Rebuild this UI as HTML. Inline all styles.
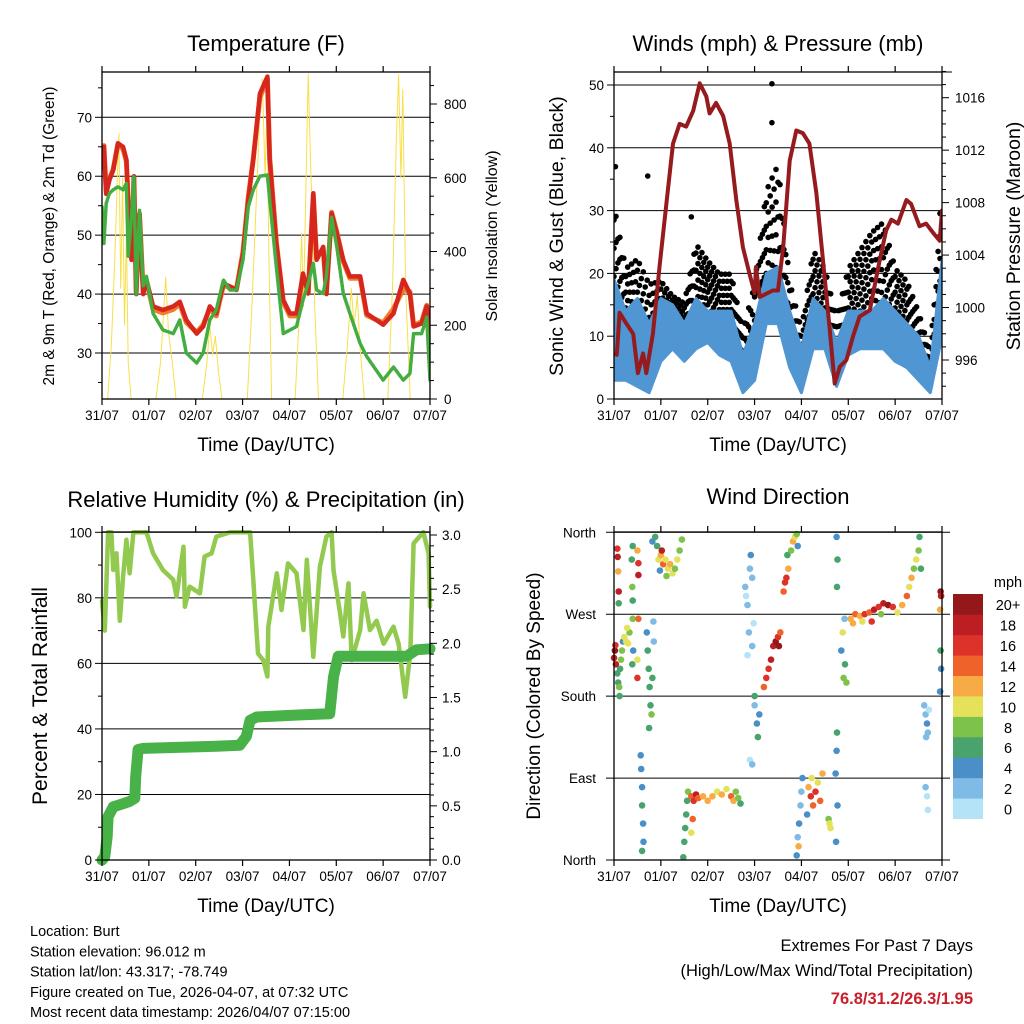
<!DOCTYPE html>
<html><head><meta charset="utf-8"><style>
body{margin:0;background:#fff;}
svg{display:block;font-family:"Liberation Sans",sans-serif;}
</style></head><body>
<svg id="s" width="1024" height="1024" viewBox="0 0 1024 1024" xmlns="http://www.w3.org/2000/svg">
<rect width="1024" height="1024" fill="#fff"/>
</svg>
<script>
// ---- shared ----
const dayLabels = ["31/07","01/07","02/07","03/07","04/07","05/07","06/07","07/07"];
// ---- temperature panel ----
const tempT  = [0,0.04,0.09,0.16,0.24,0.34,0.45,0.52,0.56,0.63,0.68,0.73,0.80,0.88,0.95,1.09,1.30,1.52,1.66,1.80,2.02,2.16,2.30,2.44,2.59,2.73,2.87,3.01,3.12,3.23,3.37,3.53,3.58,3.72,3.87,4.01,4.15,4.29,4.40,4.51,4.58,4.72,4.79,4.90,5.01,5.15,5.29,5.51,5.65,6.00,6.22,6.43,6.57,6.65,6.82,6.93,7.0];
const temp2m = [61.6,65,57,59.4,61,65.6,65,62.8,55.4,45.8,60,40,53.7,40,42.4,37.9,37.3,37.9,38.7,35.6,33.3,34.5,37.9,36.7,41.8,41.3,40.7,46.9,56,62.8,74,76.9,62.8,48.6,39,36.7,36.7,43.5,40.1,57.1,45.8,48,40,53.7,50.3,45.8,43,43,36.7,34.8,36.7,42.4,40.1,34.5,35,37.9,31.1];
const temp9m = [62,65.2,57.5,59.6,61.2,65.4,64.6,62.5,55.8,46.2,59.8,40.4,53.5,40.4,42.2,37.4,36.8,37.4,38.3,35.2,33.5,34.8,37.5,36.3,41.5,41.1,40.9,47.2,56.3,63.1,73.4,76.5,63.2,48.9,38.6,36.3,36.3,43.1,40.3,56.8,46.1,47.7,40.3,53.9,50.6,45.5,42.7,42.7,36.4,35.1,37.5,40.8,40.4,34.7,35.3,38.1,31.4];
const dewpt  = [54.8,48.6,55.4,57.1,57.7,58.2,57.7,58.8,46.4,53.1,60,40,54.3,41.3,43,36.7,33.9,33.3,35.6,30,28.3,30,35.6,37.3,42.4,40.7,40.7,45.8,54.8,57.7,60,60.2,56,44.7,33.3,33.9,34.5,39,41.8,45.2,40.7,40.1,43,53.1,48,40.1,36.7,31.6,29.4,25.4,27.6,25.4,26.5,33.3,33.3,36.1,25.4];
const solarT = [0,0.12,0.2,0.28,0.34,0.36,0.4,0.44,0.48,0.52,0.56,0.62,1.15,1.25,1.32,1.36,1.42,1.5,1.58,2.14,2.24,2.3,2.36,2.42,2.48,2.56,3.1,3.2,3.28,3.36,3.42,3.48,3.52,3.56,3.62,4.12,4.2,4.26,4.3,4.4,4.46,4.5,4.54,4.62,5.14,5.24,5.32,5.38,5.45,5.5,5.6,6.1,6.2,6.28,6.33,6.38,6.42,6.48,6.58,7.0];
const solarV = [0,0,150,400,650,720,300,600,200,450,100,0,0,100,250,330,180,100,0,0,100,200,120,170,80,0,0,250,500,750,870,600,800,400,0,0,200,450,250,880,600,480,250,0,0,150,300,200,280,150,0,0,300,700,880,600,840,300,0,0];
const tempTicks = [30,40,50,60,70];
const solarTicks = [0,200,400,600,800];
// ---- wind panel ----
const presT = [0,0.06,0.12,0.26,0.41,0.51,0.62,0.69,0.83,0.97,1.12,1.26,1.40,1.54,1.69,1.83,1.97,2.04,2.18,2.33,2.47,2.61,2.75,2.89,3.00,3.03,3.11,3.39,3.50,3.61,3.75,3.89,4.03,4.17,4.32,4.46,4.60,4.71,4.82,4.96,5.10,5.24,5.46,5.67,5.81,5.92,6.06,6.24,6.34,6.52,6.66,6.81,6.95,7.0];
const presV = [996.5,996.4,999.6,998.8,998,995,996.5,995,998,1003.1,1008,1012.5,1014,1013.8,1015,1017.1,1016.1,1014.8,1015.6,1014.6,1012.5,1008.2,1004.6,1002.6,1001.1,1003.1,1000.8,1001.3,1001.3,1004.6,1011.2,1013.5,1013.3,1012.5,1008.7,1003.6,998.5,994.2,995.5,996,997.8,999.3,999.8,1003.6,1005.9,1006.7,1006.4,1008.2,1007.9,1006.2,1006.4,1005.7,1005.1,1007.4];
const windT  = [0,0.25,0.5,0.75,1,1.25,1.5,1.75,2,2.25,2.5,2.75,3,3.25,3.5,3.75,4,4.25,4.5,4.75,5,5.25,5.5,5.75,6,6.25,6.5,6.75,7];
const windLo = [3,3,2,1,6,8,6,8,9,7,6,1,3,12,12,5,1,8,8,2,7,8,8,8,6,5,3,1,10];
const windHi = [19,14,16,12,16,15,12,16,14,14,14,7,12,20,21,14,8,16,14,9,14,14,14,16,14,12,10,5,22];
const gustLo = [15,12,10,6,10,12,10,15,15,12,12,3,5,20,18,9,4,14,12,4,12,14,16,15,12,10,6,2,20];
const gustHi = [33,22,24,20,20,17,16,26,23,21,21,12,20,35,40,20,12,25,22,14,22,25,28,30,22,20,15,8,36];
const gustExtraT = [3.37,3.37,0.03,0.72,1.65];
const gustExtraV = [50.2,44,37,35.5,29];
const windTicks = [0,10,20,30,40,50];
const presTicks = [996,1000,1004,1008,1012,1016];
// ---- humidity panel ----
const rhT = [0,0.06,0.13,0.2,0.24,0.31,0.38,0.45,0.52,0.59,0.67,0.95,1.09,1.30,1.52,1.59,1.74,1.77,1.87,2.09,2.19,2.34,2.44,2.73,3.16,3.23,3.33,3.44,3.53,3.55,3.73,3.83,3.97,4.15,4.30,4.37,4.51,4.65,4.79,4.90,4.94,5.08,5.15,5.26,5.33,5.51,5.58,5.72,5.86,6.01,6.22,6.33,6.47,6.58,6.65,6.86,6.97,7.0];
const rhV = [79,70,100,100,88.5,93.6,73,86.5,97.7,87.5,100,100,93.6,88.5,85.5,80.4,95.6,77.3,83.4,81.4,92.6,93.6,98.7,100,100,85.5,63,61,56,71.2,87.5,76.3,90.5,87.5,70.2,91.6,62,89.5,98.7,100,88.5,75.3,68.2,84.4,61,70.2,81.4,70.2,73,66,71.2,66,49.8,63,96.6,100,93.6,77.3];
const rainT = [0,0.06,0.11,0.13,0.24,0.38,0.59,0.70,0.72,0.77,0.88,2.44,2.94,3.08,3.16,3.30,4.30,4.86,4.94,5.04,6.50,6.71,7.0];
const rainV = [0,0.03,0.22,0.40,0.49,0.51,0.54,0.57,0.77,1.02,1.03,1.05,1.06,1.14,1.29,1.32,1.34,1.35,1.69,1.88,1.88,1.94,1.95];
const rhTicks = [0,20,40,60,80,100];
const rainTicks = [0.0,0.5,1.0,1.5,2.0,2.5,3.0];
// ---- wind direction panel ----
const dirT = [0,0.02,0.04,0.03, 0.07,0.09,0.11,0.13,0.15,0.12,0.17,0.19, 0.22,0.26,0.3,0.33,0.28, 0.07,0.08,0.09,0.1,0.1, 0.38,0.39,0.4,0.4,0.41,0.39,0.4, 0.52,0.52,0.5,0.52,0.5,0.5, 0.7,0.72,0.74,0.76,0.78,0.8,0.75,0.82,0.85,0.84,0.82, 0.57,0.58,0.6,0.6,0.62,0.63,0.6, 0.88,0.92,0.95,1.0,1.05,1.1,1.15,1.2,1.25,1.3,1.35,1.4,1.45,0.98,1.02,1.12, 1.48,1.5,1.52,1.54,1.56,1.58, 1.65,1.7,1.75,1.8,1.9,2.0,2.1,2.2,2.3,2.4,2.5,2.55,2.6,2.65,2.7,1.68,1.65, 2.8,2.82,2.85,2.88,2.9,2.92,2.95,2.98,2.85,2.95, 3.0,3.05,3.07,3.1,3.0,2.9,2.95, 3.2,3.25,3.3,3.35,3.4,3.45,3.5,3.52,3.55, 3.62,3.65,3.68,3.72,3.7, 3.78,3.82,3.86,3.9,3.92, 3.9,3.92,3.95,3.98,4.0,4.02,3.94, 4.15,4.2,4.25,4.3,4.35,4.4,4.45,4.12,4.22, 4.58,4.6,4.62, 4.73,4.75,4.76,4.77,4.74,4.76,4.77,4.75, 4.85,4.88,4.9,4.93,4.96,4.92, 5.05,5.15,5.25,5.35,5.45,5.55,5.65,5.75,5.85,5.95,6.05,6.15,6.25,5.1,5.3,5.5,5.7, 6.3,6.35,6.4,6.45,6.5,6.52,6.55, 6.62,6.65,6.68,6.7,6.72,6.65,6.68,6.7,6.66, 6.97,6.98,6.96,6.97,6.98,6.96];
const dirV = [222,230,215,236, 205,195,190,210,220,180,230,240, 245,240,238,250,255, 342,333,317,295,282, 330,300,285,265,230,215,345, 326,313,340,265,220,200, 250,230,210,190,170,160,145,200,240,262,350, 115,100,80,60,40,20,10, 355,345,330,335,325,330,320,325,315,320,330,340,352,318,340,312, 3,20,35,50,65,75, 70,65,72,68,70,65,70,75,72,78,70,65,75,68,62,45,30, 300,290,280,250,320,335,310,260,225,235, 170,150,135,160,180,110,105, 190,200,210,220,235,240,245,235,250, 295,305,310,320,335, 340,350,355,358,345, 5,25,40,60,75,90,15, 80,70,60,75,85,65,95,50,90, 45,40,35, 95,120,140,60,20,300,330,355, 230,250,200,215,195,265, 265,270,268,270,272,275,278,282,280,278,272,280,290,260,262,262,270, 300,310,320,330,340,355,320, 170,160,150,140,165,80,70,55,135, 295,290,275,230,210,185];
const dirS = [19,20,18,17, 7,6,8,7,8,7,9,4, 10,10,11,9,10, 16,18,12,19,7, 7,8,6,8,4,6,7, 16,18,12,14,10,16, 5,6,7,6,7,8,6,6,3,3,4, 4,5,4,6,5,4,6, 6,7,10,12,14,10,11,12,10,9,10,8,8,4,18,9, 6,6,6,7,6,8, 14,16,18,14,12,13,12,10,12,11,14,12,8,8,7,14,10, 2,1,3,2,3,4,2,1,0,2, 3,4,6,5,7,1,2, 14,16,17,18,19,20,17,20,14, 14,16,16,12,7, 9,12,10,8,5, 4,3,4,2,3,4,12, 12,16,14,16,10,14,12,4,10, 9,10,10, 4,4,6,4,4,7,7,5, 4,10,8,6,8,3, 12,14,12,16,14,18,16,18,20,16,10,12,14,12,10,16,8, 10,12,8,10,8,6,7, 3,2,4,2,1,2,1,0,2, 20,18,12,6,5,4];
const cbarLabels = ["0","2","4","6","8","10","12","14","16","18","20+"];
const cbarColors = ["#b4e3f7","#7fbbe4","#4a8fc7","#48a46c","#7cc24b","#e6e15b","#f7ab45","#ef632b","#dd3229","#bd1e24","#94171a"];
const dirTicks = ["North","East","South","West","North"];
const dirTickVals = [0,90,180,270,360];

const NS = "http://www.w3.org/2000/svg";
const svg = document.getElementById('s');
function mk(tag, attrs, parent){const e=document.createElementNS(NS,tag);for(const k in attrs)e.setAttribute(k,attrs[k]);(parent||svg).appendChild(e);return e;}
function txt(str,x,y,size,anchor,parent,extra){const e=mk('text',Object.assign({x:x,y:y,'font-size':size,'text-anchor':anchor||'middle',fill:'#000'},extra||{}),parent);e.textContent=str;return e;}
function lin(a,b,c,d){return (v)=>c+(v-a)*(d-c)/(b-a);}

function frame(name,L,R,T,B,xs,xLabel){
  const g=mk('g',{});
  
  
  mk('rect',{x:L,y:T,width:R-L,height:B-T,fill:'none',stroke:'#000','stroke-width':1.3},g);
  for(let i=0;i<dayLabels.length;i++){
    const x=xs(i);
    mk('line',{x1:x,y1:B,x2:x,y2:B+6,stroke:'#000','stroke-width':1.2},g);
    mk('line',{x1:x,y1:T,x2:x,y2:T-6,stroke:'#000','stroke-width':1.2},g);
    const t=txt(dayLabels[i],x,B+21,13.5,'middle',g);
    
    
  }
  const xl=txt(xLabel,(L+R)/2,B+59-7,19,'middle',g);
  
  
  return g;
}
function polyline(ts,vs,xs,ys,attrs,name,parent){
  const pts=ts.map((t,i)=>xs(t).toFixed(1)+','+ys(vs[i]).toFixed(1)).join(' ');
  const p=mk('polyline',Object.assign({points:pts,fill:'none','stroke-linejoin':'round','stroke-linecap':'round'},attrs),parent);
  
  
  return p;
}
function vtitle(str,x,y,size,name){
  const t=txt(str,x,y,size,'middle',svg,{transform:'rotate(-90 '+x+' '+y+')'});
  
  
}
function title(str,x,y,name){const t=txt(str,x,y,22,'middle');}

// ===== Panel 1 Temperature =====
(function(){
  const L=102,R=430,T=72,B=399;
  const xs=lin(0,7,L,R), yT=lin(30,70,353,117.3), yS=lin(0,800,399,104);
  const clip=mk('clipPath',{id:'c1'});mk('rect',{x:L,y:T,width:R-L,height:B-T},clip);
  const g=mk('g',{'clip-path':'url(#c1)'});
  
  
  tempTicks.forEach(v=>mk('line',{x1:L,x2:R,y1:yT(v),y2:yT(v),stroke:'#000','stroke-width':1},g));
  polyline(solarT,solarV,xs,yS,{stroke:'#f8df4a','stroke-width':1},'solar-insolation-line',g);
  polyline(tempT,temp9m,xs,yT,{stroke:'#f07d28','stroke-width':5},'temp-9m-line',g);
  polyline(tempT,temp2m,xs,yT,{stroke:'#d7261e','stroke-width':4.5},'temp-2m-line',g);
  polyline(tempT,dewpt,xs,yT,{stroke:'#43ad3f','stroke-width':3.5,'stroke-dasharray':'3 1.5'},'dewpoint-line',g);
  frame('temperature',L,R,T,B,i=>xs(i),'Time (Day/UTC)');
  tempTicks.forEach(v=>{mk('line',{x1:L-7,x2:L,y1:yT(v),y2:yT(v),stroke:'#000'});txt(v,L-10,yT(v)+5,13.5,'end');});
  for(let v=25;v<=75;v+=5){if(v%10)mk('line',{x1:L-4,x2:L,y1:yT(v),y2:yT(v),stroke:'#000'});}
  solarTicks.forEach(v=>{mk('line',{x1:R,x2:R+7,y1:yS(v),y2:yS(v),stroke:'#000'});txt(v,R+14,yS(v)+5,13.5,'start');});
  for(let v=50;v<=850;v+=50){if(v%200)mk('line',{x1:R,x2:R+4,y1:yS(v),y2:yS(v),stroke:'#000'});}
  title('Temperature (F)',266,51,'temperature-title');
  vtitle('2m & 9m T (Red, Orange) & 2m Td (Green)',54,236,15.5,'temperature-y-axis-title');
  vtitle('Solar Insolation (Yellow)',497,236,16,'solar-y-axis-title');
})();

// ===== Panel 2 Winds =====
(function(){
  const L=614,R=942,T=72,B=399;
  const xs=lin(0,7,L,R), yW=lin(0,50,399,85), yP=lin(996,1016,360,97.7);
  const clip=mk('clipPath',{id:'c2'});mk('rect',{x:L,y:T,width:R-L,height:B-T},clip);
  const g=mk('g',{'clip-path':'url(#c2)'});
  
  
  windTicks.forEach(v=>mk('line',{x1:L,x2:R,y1:yW(v),y2:yW(v),stroke:'#000','stroke-width':1},g));
  for(let i=0;i<windT.length-1;i++){
    for(let k=0;k<6;k++){
      const f=k/6, t=windT[i]+f*(windT[i+1]-windT[i]);
      const lo=gustLo[i]+f*(gustLo[i+1]-gustLo[i]), hi=gustHi[i]+f*(gustHi[i+1]-gustHi[i]);
      for(let j=0;j<4;j++){
        const v=lo+(hi-lo)*((j+(k%2)*0.5)/4);
        const c=mk('circle',{cx:xs(t).toFixed(1),cy:yW(v).toFixed(1),r:2.8,fill:'#000'},g);
        
        
      }
    }
  }
  gustExtraT.forEach((t,i)=>{const c=mk('circle',{cx:xs(t),cy:yW(gustExtraV[i]),r:2.8,fill:'#000'},g);
    
    });
  const top=windT.map((t,i)=>xs(t).toFixed(1)+','+yW(windHi[i]).toFixed(1));
  const bot=windT.map((t,i)=>xs(t).toFixed(1)+','+yW(windLo[i]).toFixed(1)).reverse();
  const band=mk('polygon',{points:top.concat(bot).join(' '),fill:'#4f96d2',stroke:'#4f96d2','stroke-width':3,'stroke-linejoin':'round'},g);
  
  
  polyline(presT,presV,xs,yP,{stroke:'#951b1e','stroke-width':4},'pressure-line',g);
  frame('winds',L,R,T,B,i=>xs(i),'Time (Day/UTC)');
  windTicks.forEach(v=>{mk('line',{x1:L-7,x2:L,y1:yW(v),y2:yW(v),stroke:'#000'});txt(v,L-10,yW(v)+5,13.5,'end');});
  for(let v=5;v<=50;v+=10)mk('line',{x1:L-4,x2:L,y1:yW(v),y2:yW(v),stroke:'#000'});
  mk('line',{x1:R,x2:R+10,y1:T,y2:T,stroke:'#000'});
  presTicks.forEach(v=>{mk('line',{x1:R,x2:R+7,y1:yP(v),y2:yP(v),stroke:'#000'});txt(v,R+13,yP(v)+5,13.5,'start');});
  for(let v=994;v<=1018;v+=1){if(v%4)mk('line',{x1:R,x2:R+4,y1:yP(v),y2:yP(v),stroke:'#000'});}
  title('Winds (mph) & Pressure (mb)',778,51,'winds-title');
  vtitle('Sonic Wind & Gust (Blue, Black)',563,236,19.5,'wind-y-axis-title');
  vtitle('Station Pressure (Maroon)',1020,236,19.5,'pressure-y-axis-title');
})();

// ===== Panel 3 RH & Precip =====
(function(){
  const L=102,R=430,T=532,B=860;
  const xs=lin(0,7,L,R), yR=lin(0,100,860,532.3), yP=lin(0,3,860,535);
  const clip=mk('clipPath',{id:'c3'});mk('rect',{x:L-8,y:T-8,width:R-L+16,height:B-T+16},clip);
  const g=mk('g',{'clip-path':'url(#c3)'});
  
  
  rhTicks.forEach(v=>mk('line',{x1:L,x2:R,y1:yR(v),y2:yR(v),stroke:'#000','stroke-width':1},g));
  polyline(rhT,rhV,xs,yR,{stroke:'#92c94f','stroke-width':4.5},'relative-humidity-line',g);
  polyline(rainT,rainV,xs,yP,{stroke:'#48b249','stroke-width':11},'precipitation-line',g);
  frame('humidity',L,R,T,B,i=>xs(i),'Time (Day/UTC)');
  rhTicks.forEach(v=>{mk('line',{x1:L-7,x2:L,y1:yR(v),y2:yR(v),stroke:'#000'});txt(v,L-10,yR(v)+5,13.5,'end');});
  for(let v=10;v<=90;v+=20)mk('line',{x1:L-4,x2:L,y1:yR(v),y2:yR(v),stroke:'#000'});
  rainTicks.forEach(v=>{mk('line',{x1:R,x2:R+7,y1:yP(v),y2:yP(v),stroke:'#000'});txt(v.toFixed(1),R+12,yP(v)+5,13.5,'start');});
  for(let v=0.1;v<3;v+=0.1){if(Math.abs(v*2-Math.round(v*2))>0.01)mk('line',{x1:R,x2:R+4,y1:yP(v),y2:yP(v),stroke:'#000'});}
  title('Relative Humidity (%) & Precipitation (in)',266,507,'humidity-title');
  vtitle('Percent & Total Rainfall',47,696,21,'humidity-y-axis-title');
})();

// ===== Panel 4 Wind Direction =====
(function(){
  const L=614,R=942,T=532,B=860;
  const xs=lin(0,7,L,R), yD=lin(0,360,860,532.3);
  const g=mk('g',{});
  
  
  dirTickVals.forEach(v=>mk('line',{x1:L-8,x2:R+8,y1:yD(v),y2:yD(v),stroke:'#000','stroke-width':1},g));
  dirT.forEach((t,i)=>{
    const idx=Math.min(10,Math.floor(dirS[i]/2));
    const c=mk('circle',{cx:xs(t).toFixed(1),cy:yD(dirV[i]).toFixed(1),r:3.3,fill:cbarColors[idx]},g);
    
    
  });
  frame('wind-direction',L,R,T,B,i=>xs(i),'Time (Day/UTC)');
  dirTicks.forEach((s,i)=>{const t=txt(s,L-18,yD(dirTickVals[i])+5,13.5,'end');});
  title('Wind Direction',778,504,'wind-direction-title');
  vtitle('Direction (Colored By Speed)',540,696,19,'wind-direction-y-axis-title');
  const cb=mk('g',{});
  
  
  const h=(818.7-594)/11;
  cbarColors.forEach((c,i)=>{
    const y=818.7-(i+1)*h;
    mk('rect',{x:953,y:y,width:30,height:h+0.3,fill:c},cb);
    txt(cbarLabels[i],1008,y+h/2+6,14.5,'middle',cb);
  });
  txt('mph',1008,587,14.5,'middle',cb);
})();

// ===== Footer text =====
(function(){
  const lines=["Location: Burt","Station elevation: 96.012 m","Station lat/lon: 43.317; -78.749","Figure created on Tue, 2026-04-07, at 07:32 UTC","Most recent data timestamp: 2026/04/07 07:15:00"];
  lines.forEach((s,i)=>{const t=txt(s,30,936+i*20.3,14.5,'start');});
  let t=txt('Extremes For Past 7 Days',973,951,16.5,'end');
  t=txt('(High/Low/Max Wind/Total Precipitation)',973,976,16.5,'end');
  t=txt('76.8/31.2/26.3/1.95',973,1004,16.5,'end',svg,{fill:'#c8202a','font-weight':'bold'});
})();
</script>
</body></html>
